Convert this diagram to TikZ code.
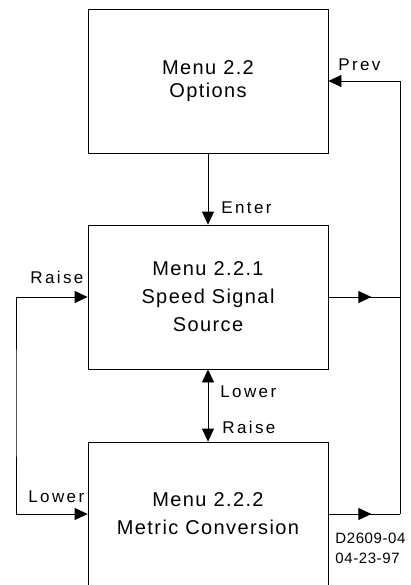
\documentclass[tikz,border=0pt]{standalone}
\usepackage{fontspec}
\setmainfont{Liberation Sans}
\usetikzlibrary{arrows.meta,decorations.markings}

\newcommand\boxfont{\fontsize{20}{28}\selectfont\addfontfeatures{LetterSpace=7}}
\newcommand\lblfont{\fontsize{17}{20}\selectfont\addfontfeatures{LetterSpace=14}}
\newcommand\tagfont{\fontsize{15}{20}\selectfont\addfontfeatures{LetterSpace=4}}

\begin{document}
\begin{tikzpicture}[x=1pt,y=-1pt,line width=0.8pt,
    menu/.style={draw, minimum width=240pt, minimum height=144pt, align=center, font=\boxfont},
    lbl/.style={font=\lblfont, inner sep=0pt, anchor=base west},
    tip/.style={-{Triangle[length=13pt,width=12pt]}},
    tips/.style={{Triangle[length=13pt,width=12pt]}-{Triangle[length=13pt,width=12pt]}},
    midtip/.style={postaction={decorate}, decoration={markings,
        mark=at position 0.6 with {\arrow{Triangle[length=13pt,width=12pt]}}}}]
            \useasboundingbox (0,0) rectangle (410,585);

            % menu boxes
            \node[menu] (opt) at (208,81) {Menu 2.2\\[-5pt]Options};
            \node[menu] (sss) at (208,297) {Menu 2.2.1\\Speed Signal\\Source};
            \node[menu] (mc) at (208,514) {Menu 2.2.2\\Metric Conversion};

            % return line on the left and on the right
            \coordinate (lt) at (16,400);
            \coordinate (rt) at (400,81);

            \draw[tip] (opt) -- (sss);
            \draw[tips] (sss) -- (mc);
            \draw[tips] (sss.west) -| (lt) |- (mc.west);
            \draw[midtip] (sss.east) -- (sss.east -| rt);
            \draw[midtip] (mc.east) -- (mc.east -| rt);
            \draw[tip] (mc.east -| rt) -- (rt) -- (opt.east);

            % key labels
            \node[lbl] (prev) at (338,71) {Prev};
            \node[lbl] (enter) at (221,213) {Enter};
            \node[lbl] (raiseL) at (30,283) {Raise};
            \node[lbl] (lowerL) at (28,502) {Lower};
            \node[lbl] (lowerM) at (220,397) {Lower};
            \node[lbl] (raiseM) at (222,433) {Raise};

            \node[font=\tagfont, inner sep=0pt, anchor=base west, align=left] (tag) at (335,563) {D2609-04\\04-23-97};
        \end{tikzpicture}
\end{document}
